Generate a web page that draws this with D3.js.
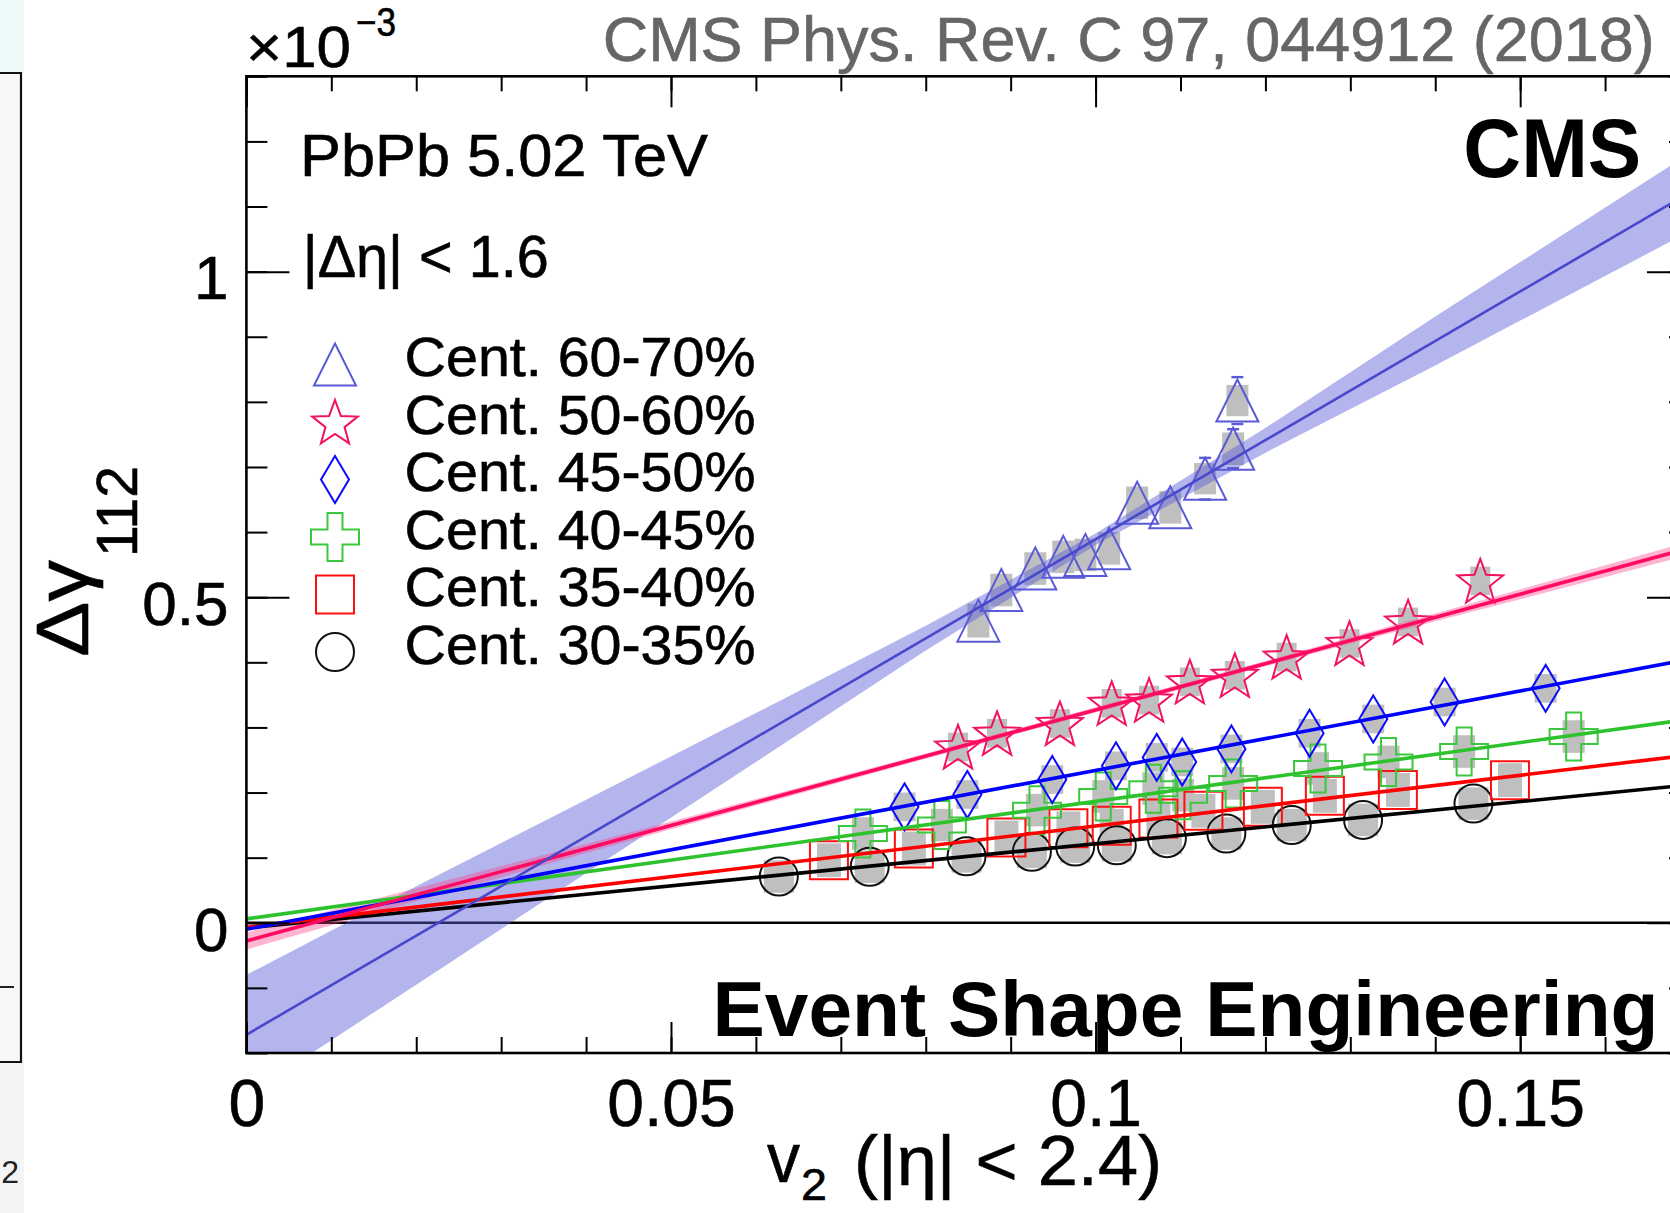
<!DOCTYPE html>
<html>
<head>
<meta charset="utf-8">
<script src="https://cdn.jsdelivr.net/npm/d3@7"></script>
<style>
body { margin: 0; background: #fff; }
svg { display: block; font-family: "Liberation Sans", Arial, Helvetica, sans-serif; }
</style>
</head>
<body>
<script>
// values, delta gamma in units of 1e-3
const centLabels = ['Cent. 60-70%', 'Cent. 50-60%', 'Cent. 45-50%', 'Cent. 40-45%', 'Cent. 35-40%', 'Cent. 30-35%'];

const v2_6070 = [0.0862, 0.0889, 0.0929, 0.0962, 0.0988, 0.1016, 0.1049, 0.1088, 0.1129, 0.1162, 0.1167];
const dg_6070 = [0.464, 0.511, 0.544, 0.562, 0.565, 0.575, 0.645, 0.638, 0.682, 0.728, 0.802];
const stat_6070 = [0.020, 0.020, 0.020, 0.021, 0.022, 0.022, 0.024, 0.026, 0.032, 0.030, 0.036];
const sys_6070 = [0.026, 0.025, 0.025, 0.025, 0.025, 0.025, 0.025, 0.025, 0.024, 0.025, 0.024];

const v2_5060 = [0.0838, 0.0884, 0.0958, 0.1019, 0.1063, 0.1111, 0.1164, 0.1225, 0.1299, 0.1368, 0.1453];
const dg_5060 = [0.270, 0.291, 0.306, 0.337, 0.342, 0.370, 0.380, 0.408, 0.429, 0.462, 0.525];
const sys_5060 = [0.022, 0.022, 0.022, 0.022, 0.022, 0.022, 0.022, 0.022, 0.022, 0.022, 0.022];

const v2_4550 = [0.0775, 0.0849, 0.0949, 0.1024, 0.1072, 0.1102, 0.1160, 0.1252, 0.1327, 0.1411, 0.1530];
const dg_4550 = [0.178, 0.197, 0.220, 0.241, 0.254, 0.247, 0.267, 0.291, 0.313, 0.339, 0.360];
const sys_4550 = [0.022, 0.022, 0.022, 0.022, 0.022, 0.022, 0.022, 0.022, 0.022, 0.022, 0.022];

const v2_4045 = [0.0726, 0.0819, 0.0931, 0.1009, 0.1068, 0.1103, 0.1162, 0.1262, 0.1345, 0.1434, 0.1563];
const dg_4045 = [0.137, 0.150, 0.173, 0.194, 0.206, 0.196, 0.214, 0.237, 0.247, 0.263, 0.286];
const sys_4045 = [0.025, 0.025, 0.025, 0.025, 0.025, 0.025, 0.025, 0.025, 0.025, 0.025, 0.025];

const v2_3540 = [0.0686, 0.0786, 0.0895, 0.0968, 0.1019, 0.1074, 0.1127, 0.1197, 0.1270, 0.1356, 0.1488];
const dg_3540 = [0.096, 0.114, 0.131, 0.145, 0.149, 0.160, 0.172, 0.178, 0.195, 0.204, 0.219];
const sys_3540 = [0.026, 0.026, 0.026, 0.026, 0.026, 0.026, 0.026, 0.026, 0.026, 0.026, 0.026];

const v2_3035 = [0.0627, 0.0734, 0.0848, 0.0925, 0.0976, 0.1025, 0.1084, 0.1154, 0.1231, 0.1315, 0.1445];
const dg_3035 = [0.071, 0.086, 0.102, 0.109, 0.117, 0.119, 0.130, 0.137, 0.150, 0.158, 0.183];
const sys_3035 = [0.025, 0.025, 0.025, 0.025, 0.025, 0.025, 0.025, 0.025, 0.025, 0.025, 0.025];

// linear fits: intercept and slope
const fitIntercept = [-0.172, -0.028, -0.010, 0.006, -0.007, -0.008];
const fitSlope = [7.61, 3.55, 2.44, 1.805, 1.557, 1.294];

// fit uncertainty bands
const bandV2 = [0, 0.02, 0.04, 0.06, 0.08, 0.1, 0.12, 0.14, 0.17];
const band6070Lo = [-0.266, -0.095, 0.076, 0.247, 0.418, 0.580, 0.722, 0.856, 1.062];
const band6070Hi = [-0.080, 0.056, 0.189, 0.322, 0.456, 0.598, 0.760, 0.931, 1.182];
const band5060Lo = [-0.041, 0.033, 0.107, 0.180, 0.252, 0.323, 0.394, 0.463, 0.565];
const band5060Hi = [-0.015, 0.053, 0.121, 0.190, 0.260, 0.331, 0.402, 0.475, 0.586];

const xTickVals = [0, 0.05, 0.1, 0.15];
const xTickLabels = ['0', '0.05', '0.1', '0.15'];
const yTickVals = [0, 0.5, 1];
const yTickLabels = ['0', '0.5', '1'];

const margin = { top: 76.3, left: 246.4, right: -20, bottom: 160 };
const width = 1670 - margin.left - margin.right;
const height = 1213 - margin.top - margin.bottom;

const xScale = d3.scaleLinear().domain([0, 0.17]).range([0, width]);
const yScale = d3.scaleLinear().domain([-0.2, 1.3]).range([height, 0]);

const series = [
	{ v2: v2_6070, dg: dg_6070, sys: sys_6070, stat: stat_6070, shape: 'triangle', color: '#5a5ad8', line: '#4848cc', lw: 2.6, boxW: 22 },
	{ v2: v2_5060, dg: dg_5060, sys: sys_5060, shape: 'star', color: '#f2125f', line: '#ff0a62', lw: 3.6, boxW: 20 },
	{ v2: v2_4550, dg: dg_4550, sys: sys_4550, shape: 'diamond', color: '#0a0aff', line: '#0000ff', lw: 3.6, boxW: 22 },
	{ v2: v2_4045, dg: dg_4045, sys: sys_4045, shape: 'cross', color: '#3cc83c', line: '#2ec32e', lw: 3.6, boxW: 22 },
	{ v2: v2_3540, dg: dg_3540, sys: sys_3540, shape: 'square', color: '#ff1010', line: '#ff0000', lw: 3.6, boxW: 24 },
	{ v2: v2_3035, dg: dg_3035, sys: sys_3035, shape: 'circle', color: '#111111', line: '#000000', lw: 3.6, boxW: 30 }
];

function markerPath(shape) {
	const p = d3.path();
	if (shape === 'triangle') {
		p.moveTo(0, -21); p.lineTo(21, 21); p.lineTo(-21, 21); p.closePath();
	} else if (shape === 'star') {
		const R = 24, r = 10;
		for (let i = 0; i < 10; i++) {
			const a = -Math.PI / 2 + i * Math.PI / 5;
			const rr = i % 2 === 0 ? R : r;
			if (i === 0) p.moveTo(rr * Math.cos(a), rr * Math.sin(a) + 2);
			else p.lineTo(rr * Math.cos(a), rr * Math.sin(a) + 2);
		}
		p.closePath();
	} else if (shape === 'diamond') {
		p.moveTo(0, -23.5); p.lineTo(14, 0); p.lineTo(0, 23.5); p.lineTo(-14, 0); p.closePath();
	} else if (shape === 'cross') {
		const a = 24, b = 7.5;
		p.moveTo(-b, -a); p.lineTo(b, -a); p.lineTo(b, -b); p.lineTo(a, -b); p.lineTo(a, b);
		p.lineTo(b, b); p.lineTo(b, a); p.lineTo(-b, a); p.lineTo(-b, b); p.lineTo(-a, b);
		p.lineTo(-a, -b); p.lineTo(-b, -b); p.closePath();
	} else if (shape === 'square') {
		p.rect(-19, -19, 38, 38);
	} else {
		p.arc(0, 0, 19, 0, 2 * Math.PI);
	}
	return p.toString();
}

const svg = d3.select('body').append('svg')
	.attr('width', 1670)
	.attr('height', 1213);

// piece of the neighbouring panel on the left edge
svg.append('rect').attr('x', 0).attr('y', 0).attr('width', 24).attr('height', 73).attr('fill', '#eef9fa');
svg.append('rect').attr('x', 0).attr('y', 73).attr('width', 21).attr('height', 989).attr('fill', '#f7f7f7');
svg.append('rect').attr('x', 0).attr('y', 1063).attr('width', 24).attr('height', 150).attr('fill', '#f4f4f4');
svg.append('path').attr('d', 'M0,73H21V1062H0').attr('fill', 'none').attr('stroke', '#111').attr('stroke-width', 2.2);
svg.append('line').attr('x1', 0).attr('x2', 14).attr('y1', 987).attr('y2', 987).attr('stroke', '#222').attr('stroke-width', 2);
svg.append('text').attr('x', 19).attr('y', 1183).attr('text-anchor', 'end').attr('font-size', 32).attr('fill', '#222').text('2');

const plot = svg.append('g')
	.attr('transform', 'translate(' + margin.left + ',' + margin.top + ')');

plot.append('clipPath').attr('id', 'clip')
	.append('rect').attr('width', width).attr('height', height);

const inner = plot.append('g').attr('clip-path', 'url(#clip)');

// zero line
inner.append('line')
	.attr('x1', xScale(0)).attr('x2', xScale(0.17))
	.attr('y1', yScale(0)).attr('y2', yScale(0))
	.attr('stroke', '#000').attr('stroke-width', 2.6);

// systematic boxes
series.forEach(function(s) {
	inner.append('g').selectAll('rect')
		.data(s.v2.map(function(v, i) { return { v: v, g: s.dg[i], e: s.sys[i] }; }))
		.enter().append('rect')
		.attr('x', function(d) { return xScale(d.v) - s.boxW / 2; })
		.attr('width', s.boxW)
		.attr('y', function(d) { return yScale(d.g + d.e); })
		.attr('height', function(d) { return yScale(d.g - d.e) - yScale(d.g + d.e); })
		.attr('fill', '#bfbfbf');
});

// markers, drawn from the back series to the front one
series.slice().reverse().forEach(function(s) {
	const pts = s.v2.map(function(v, i) { return { v: v, g: s.dg[i], st: s.stat ? s.stat[i] : 0 }; });
	const grp = inner.append('g');
	if (s.stat) {
		pts.forEach(function(d) {
			const cx = xScale(d.v), cy = yScale(d.g);
			const up = yScale(d.g + d.st), dn = yScale(d.g - d.st);
			if (cy - up > 18) {
				grp.append('line').attr('x1', cx).attr('x2', cx).attr('y1', Math.min(cy - 21, up)).attr('y2', up)
					.attr('stroke', s.color).attr('stroke-width', 2);
				grp.append('line').attr('x1', cx - 6).attr('x2', cx + 6).attr('y1', up).attr('y2', up)
					.attr('stroke', s.color).attr('stroke-width', 2.4);
				grp.append('line').attr('x1', cx - 6).attr('x2', cx + 6).attr('y1', dn).attr('y2', dn)
					.attr('stroke', s.color).attr('stroke-width', 2.4);
			}
		});
	}
	grp.selectAll('path.m').data(pts).enter().append('path')
		.attr('class', 'm')
		.attr('d', markerPath(s.shape))
		.attr('transform', function(d) { return 'translate(' + xScale(d.v) + ',' + yScale(d.g) + ')'; })
		.attr('fill', 'none')
		.attr('stroke', s.color)
		.attr('stroke-width', 2);
});

// bands
const area = d3.area()
	.x(function(d) { return xScale(d[0]); })
	.y0(function(d) { return yScale(d[1]); })
	.y1(function(d) { return yScale(d[2]); });

inner.append('path')
	.datum(bandV2.map(function(v, i) { return [v, band6070Lo[i], band6070Hi[i]]; }))
	.attr('d', area).attr('fill', '#5b5bd9').attr('opacity', 0.45);
inner.append('path')
	.datum(bandV2.map(function(v, i) { return [v, band5060Lo[i], band5060Hi[i]]; }))
	.attr('d', area).attr('fill', '#ff3d85').attr('opacity', 0.38);

// fit lines
const line = d3.line()
	.x(function(d) { return xScale(d[0]); })
	.y(function(d) { return yScale(d[1]); });

series.slice().reverse().forEach(function(s) {
	const k = series.indexOf(s);
	const ends = xScale.domain().map(function(v) { return [v, fitIntercept[k] + fitSlope[k] * v]; });
	inner.append('path').datum(ends)
		.attr('d', line)
		.attr('fill', 'none')
		.attr('stroke', s.line)
		.attr('stroke-width', s.lw);
});

// frame and axes
plot.append('rect').attr('width', width).attr('height', height)
	.attr('fill', 'none').attr('stroke', '#000').attr('stroke-width', 2.6);

function styleAxis(g) {
	g.select('.domain').remove();
	g.selectAll('line').attr('stroke', '#000').attr('stroke-width', 2);
	g.attr('font-family', '"Liberation Sans", Arial, Helvetica, sans-serif');
	g.selectAll('text').attr('fill', '#000').attr('stroke', '#000').attr('stroke-width', 0.6);
}

plot.append('g').attr('transform', 'translate(0,' + height + ')')
	.call(d3.axisBottom(xScale).tickValues(xTickVals).tickSize(-31).tickPadding(26)
		.tickFormat(function(d, i) { return xTickLabels[i]; }))
	.attr('font-size', 66)
	.call(styleAxis);
plot.append('g').attr('transform', 'translate(0,' + height + ')')
	.call(d3.axisBottom(xScale).tickValues(xScale.ticks(17)).tickSize(-16).tickFormat(''))
	.call(styleAxis);
plot.append('g')
	.call(d3.axisTop(xScale).tickValues(xTickVals).tickSize(-31).tickFormat(''))
	.call(styleAxis);
plot.append('g')
	.call(d3.axisTop(xScale).tickValues(xScale.ticks(17)).tickSize(-15).tickFormat(''))
	.call(styleAxis);

plot.append('g')
	.call(d3.axisLeft(yScale).tickValues(yTickVals).tickSize(-43).tickPadding(18)
		.tickFormat(function(d, i) { return yTickLabels[i]; }))
	.attr('font-size', 62)
	.call(styleAxis)
	.selectAll('text').attr('dy', '0.44em');
plot.append('g')
	.call(d3.axisLeft(yScale).tickValues(yScale.ticks(15)).tickSize(-21).tickFormat(''))
	.call(styleAxis);
plot.append('g').attr('transform', 'translate(' + width + ',0)')
	.call(d3.axisRight(yScale).tickValues(yTickVals).tickSize(-43).tickFormat(''))
	.call(styleAxis);
plot.append('g').attr('transform', 'translate(' + width + ',0)')
	.call(d3.axisRight(yScale).tickValues(yScale.ticks(15)).tickSize(-21).tickFormat(''))
	.call(styleAxis);

// text helper
function label(x, y, str, size, len, opts) {
	opts = opts || {};
	const fill = opts.fill || '#000';
	const t = svg.append('text')
		.attr('x', x).attr('y', y)
		.attr('font-size', size)
		.attr('fill', fill)
		.attr('font-weight', opts.bold ? 'bold' : 'normal')
		.text(str);
	if (!opts.bold) t.attr('stroke', fill).attr('stroke-width', 0.6);
	if (len) t.attr('textLength', len).attr('lengthAdjust', 'spacingAndGlyphs');
	if (opts.rotate) t.attr('transform', 'rotate(-90,' + x + ',' + y + ')');
	return t;
}

label(602.7, 60.7, 'CMS Phys. Rev. C 97, 044912 (2018)', 63, 1052, { fill: '#666666' });
label(246, 66.7, '\u00d710', 58, 105);
label(356, 36, '\u22123', 40, 40);
label(300, 176, 'PbPb 5.02 TeV', 60, 408);
label(302.7, 276.7, '|\u0394\u03b7| < 1.6', 60, 246);
label(1463.3, 177.3, 'CMS', 84, 178, { bold: true });
label(712.5, 1036, 'Event Shape Engineering', 77, 946, { bold: true });

// axis titles
label(88, 657, '\u0394\u03b3', 74, 97, { rotate: true });
label(137, 557, '112', 58, 91, { rotate: true });
label(767, 1182, 'v', 70, 33);
label(801, 1200, '2', 44, 26);
label(854, 1185, '(|\u03b7| < 2.4)', 70, 308);

// legend
const legendX = 335;
const legendTextX = 404.5;
const legendY0 = 376;
const legendStep = 57.5;
series.forEach(function(s, i) {
	const by = legendY0 + i * legendStep;
	svg.append('path')
		.attr('d', markerPath(s.shape))
		.attr('transform', 'translate(' + legendX + ',' + (by - 11.5) + ')')
		.attr('fill', 'none')
		.attr('stroke', s.color)
		.attr('stroke-width', 2);
	label(legendTextX, by, centLabels[i], 55, 351);
});
</script>
</body>
</html>
